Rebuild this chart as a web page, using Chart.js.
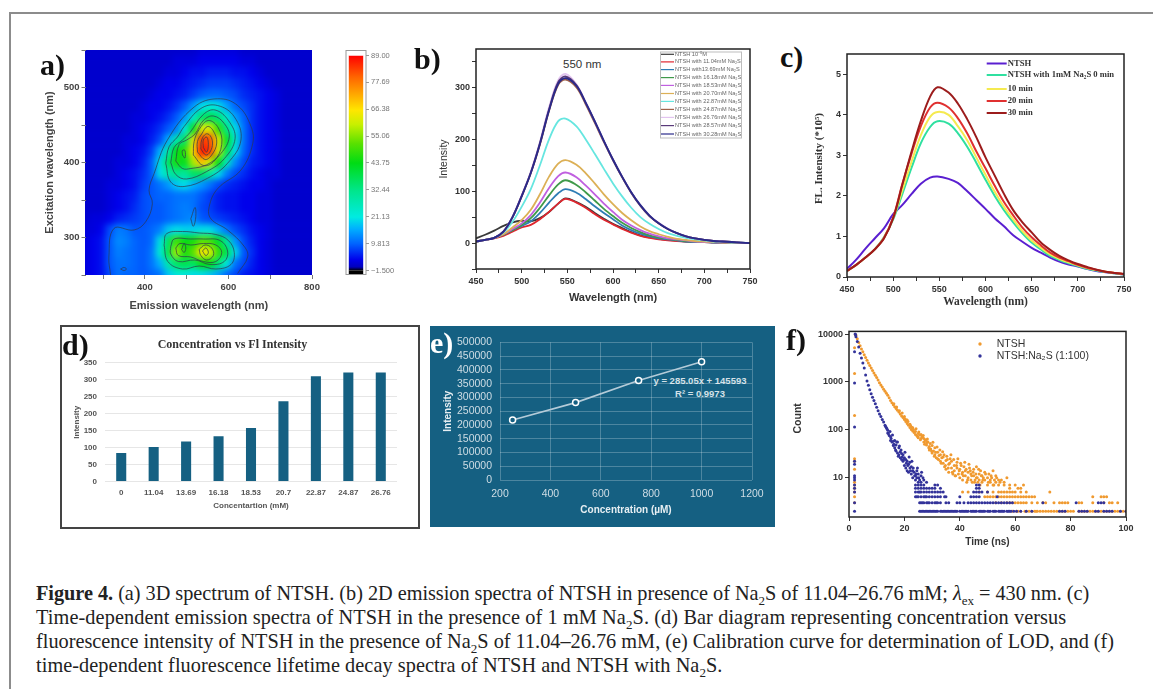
<!DOCTYPE html>
<html>
<head>
<meta charset="utf-8">
<title>Figure 4</title>
<script src="https://cdn.jsdelivr.net/npm/chart.js@4"></script>
<style>
html,body{margin:0;padding:0;background:#fff;}
body{width:1153px;height:689px;position:relative;overflow:hidden;}
canvas{position:absolute;filter:blur(.45px);}
.abs{position:absolute;white-space:nowrap;}
.tag{position:absolute;font:bold 30px "Liberation Serif";color:#111;line-height:30px;z-index:5;}
.cap{position:absolute;left:36px;white-space:nowrap;font:20.3px/24px "Liberation Serif";color:#222;}
.cap sub{font-size:13px;line-height:0;}
</style>
</head>
<body>
<div class="abs" style="left:9px;top:12px;width:1144px;height:2px;background:#8c8c8c"></div>
<div class="abs" style="left:9px;top:12px;width:2px;height:677px;background:#8c8c8c"></div>
<div class="abs" style="left:60px;top:325px;width:356px;height:200px;border:2px solid #444"></div>
<div class="abs" style="left:430px;top:326px;width:345px;height:201px;background:#156082"></div>
<div class="abs" id="heatClip" style="left:85px;top:50px;width:227px;height:225px;overflow:hidden;background:rgb(0,0,222)"></div>

<div class="tag" style="left:40px;top:50px">a)</div>
<div class="tag" style="left:414px;top:44px">b)</div>
<div class="tag" style="left:780px;top:42px">c)</div>
<div class="tag" style="left:62px;top:330px">d)</div>
<div class="tag" style="left:430px;top:328px;color:#fff">e)</div>
<div class="tag" style="left:786px;top:325px">f)</div>

<div class="abs" style="left:563px;top:58px;font:11.5px 'Liberation Sans';color:#333">550 nm</div>
<div class="abs" style="left:651px;top:375px;width:98px;text-align:center;font:bold 9.5px 'Liberation Sans';color:#d4e1e8">y = 285.05x + 145593</div>
<div class="abs" style="left:651px;top:388px;width:98px;text-align:center;font:bold 9.5px 'Liberation Sans';color:#d4e1e8">R² = 0.9973</div>

<div class="cap" style="top:581px;letter-spacing:-.03px"><b>Figure 4.</b> (a) 3D spectrum of NTSH. (b) 2D emission spectra of NTSH in presence of Na<sub>2</sub>S of 11.04–26.76 mM; <i>λ</i><sub>ex</sub> = 430 nm. (c)</div>
<div class="cap" style="top:605px;letter-spacing:.1px">Time-dependent emission spectra of NTSH in the presence of 1 mM Na<sub>2</sub>S. (d) Bar diagram representing concentration versus</div>
<div class="cap" style="top:629px">fluorescence intensity of NTSH in the presence of Na<sub>2</sub>S of 11.04–26.76 mM, (e) Calibration curve for determination of LOD, and (f)</div>
<div class="cap" style="top:653px;letter-spacing:.06px">time-dependent fluorescence lifetime decay spectra of NTSH and NTSH with Na<sub>2</sub>S.</div>

<script>
// a) excitation-emission map
const heatEm = [260,280,300,320,340,360,380,400,420,440,460,480,500,520,540,560,580,600,620,640,660,680,700,720,740,760,780,800];
const heatEx = [550,535,520,505,490,475,460,445,430,415,400,385,370,355,340,325,310,295,280,265,250];
const heatRows = [
  [1,1,1,1,1,1,1,1,1,1,1,1,1,1,2,2,2,2,2,1,1,1,1,1,1,1,1,1],
  [1,1,1,1,1,1,1,1,1,1,1,2,2,2,3,3,3,3,3,2,2,1,1,1,1,1,1,1],
  [1,1,1,1,1,1,1,1,1,1,2,2,3,4,4,5,5,5,4,4,3,2,1,1,1,1,1,1],
  [1,1,1,1,1,1,1,1,1,2,3,3,4,5,6,7,7,7,6,5,4,3,2,1,1,1,1,1],
  [1,1,1,1,1,1,1,1,2,3,3,4,5,7,9,10,10,9,8,6,5,4,3,2,1,1,1,1],
  [1,1,1,1,1,1,1,2,3,3,4,6,9,14,20,22,20,15,10,8,6,4,3,2,1,1,1,1],
  [1,1,1,1,1,1,2,2,3,4,6,9,14,24,35,38,34,24,15,10,6,4,3,2,1,1,1,1],
  [1,1,1,1,1,1,2,3,4,6,9,12,22,42,62,62,48,33,20,11,6,4,3,2,1,1,1,1],
  [1,1,1,1,1,2,2,3,5,8,16,28,36,62,84,82,62,42,24,11,6,4,3,2,1,1,1,1],
  [1,1,1,1,1,2,3,4,7,16,28,44,48,66,88,84,62,38,20,10,6,4,3,2,1,1,1,1],
  [1,1,1,1,2,2,3,5,9,20,36,46,42,58,70,60,44,26,13,8,5,4,3,2,1,1,1,1],
  [1,1,1,1,2,3,4,6,9,20,28,32,30,36,36,30,20,12,8,6,4,3,2,2,1,1,1,1],
  [1,1,1,2,2,3,4,7,9,11,14,18,20,16,14,11,8,6,5,4,3,3,2,1,1,1,1,1],
  [1,1,1,2,3,4,5,8,9,10,10,11,11,11,9,7,5,4,4,3,3,2,2,1,1,1,1,1],
  [1,1,1,2,3,4,6,8,9,9,10,11,12,11,8,7,5,4,4,3,3,2,2,1,1,1,1,1],
  [1,2,2,3,5,6,7,8,9,9,10,11,12,13,9,8,7,6,5,4,3,2,2,1,1,1,1,1],
  [2,2,3,8,12,11,9,9,10,12,18,20,19,19,20,20,16,11,8,6,4,3,2,1,1,1,1,1],
  [2,3,4,9,13,12,10,9,10,20,36,50,44,46,52,50,42,30,14,8,5,3,2,1,1,1,1,1],
  [2,3,4,9,12,11,10,9,11,22,38,58,46,52,66,62,48,38,20,9,6,3,2,1,1,1,1,1],
  [2,3,4,9,11,11,10,9,11,16,28,36,38,36,44,44,34,22,11,8,5,3,2,1,1,1,1,1],
  [2,3,4,8,11,10,10,9,10,11,18,22,22,20,20,18,15,10,8,5,4,3,2,1,1,1,1,1]
];
// contour lines as [emission, excitation] pairs
const contourOuter = [[318,250],[314,274],[326,312],[374,310],[402,321],[418,345],[410,363],[422,385],[454,430],[518,474],[574,485],[622,476],[654,448],[658,425],[630,390],[574,365],[554,341],[558,325],[598,310],[638,288],[646,274],[622,252]];
const contourUpper = [
  [[450,399],[462,374],[494,368],[550,379],[598,399],[630,430],[614,461],[574,476],[534,472],[494,448],[478,434],[458,421],[450,399]],
  [[462,400],[474,384],[500,378],[548,388],[590,405],[616,432],[600,456],[568,470],[540,464],[508,440],[490,430],[470,420],[462,400]],
  [[474,402],[490,392],[510,392],[548,397],[582,412],[602,434],[590,452],[564,462],[540,456],[520,438],[500,430],[482,424],[474,402]],
  [[516,410],[540,396],[566,402],[584,424],[576,446],[552,456],[530,444],[518,428],[516,410]],
  [[526,414],[544,404],[560,410],[572,426],[564,442],[550,448],[536,438],[526,428],[526,414]],
  [[534,418],[546,410],[556,414],[562,426],[556,436],[546,438],[536,430],[534,418]],
  [[540,420],[548,414],[552,424],[548,434],[540,430],[540,420]],
  [[490,410],[496,406],[496,416],[490,416],[490,410]]
];
const contourLower = [
  [[446,290],[452,305],[490,308],[530,306],[570,304],[600,296],[614,280],[606,264],[570,258],[530,262],[490,258],[455,268],[446,290]],
  [[462,288],[470,298],[510,298],[540,298],[580,296],[598,282],[590,268],[556,264],[520,270],[480,268],[462,278],[462,288]],
  [[474,286],[484,292],[510,290],[540,292],[570,290],[584,280],[570,268],[540,268],[510,274],[480,276],[474,286]],
  [[488,284],[494,292],[498,286],[494,280],[488,284]],
  [[530,284],[544,290],[560,286],[564,276],[548,270],[534,276],[530,284]],
  [[538,282],[546,286],[552,280],[546,276],[538,282]],
  [[510,325],[520,340],[522,328],[516,315],[510,325]],
  [[342,258],[350,260],[356,258],[350,256],[342,258]]
];
const cbarTicks = [89,77.69,66.38,55.06,43.75,32.44,21.13,9.813,-1.5];
const cbarLabels = ["89.00","77.69","66.38","55.06","43.75","32.44","21.13","9.813","−1.500"];

// b) and c) spectra share the wavelength list
const wave = [450,460,470,480,490,500,510,520,530,540,548,560,570,580,590,600,610,620,630,640,650,660,670,680,690,700,710,720,730,740,750];
const bLabels = ["NTSH 10⁻⁵M","NTSH with 11.04mM Na₂S","NTSH with13.69mM Na₂S","NTSH with 16.18mM Na₂S","NTSH with 18.53mM Na₂S","NTSH with 20.70mM Na₂S","NTSH with 22.87mM Na₂S","NTSH with 24.87mM Na₂S","NTSH with 26.76mM Na₂S","NTSH with 28.57mM Na₂S","NTSH with 30.28mM Na₂S"];
const bNtsh = [9,16,24,33,40,43,42,48,60,76,86,79,70,58,47,37,29,21,15,11,8,6,4.5,3,2,2,1.5,1,1,0.5,0];
const b1104 = [3,6,9,14,22,30,35,46,60,76,85,78,68,56,45,36,27,20,14,10,7,5,4,3,2,2,1,1,1,0,0];
const b1369 = [3,6,10,16,25,33,42,58,78,96,104,97,85,71,58,46,34,25,18,13,9,7,5,3,2,2,1,1,1,0,0];
const b1618 = [3,6,10,16,25,35,48,68,92,113,121,112,98,82,66,52,39,29,21,15,11,8,6,4,3,2,2,1,1,0,0];
const b1853 = [3,6,10,17,27,38,54,78,106,129,136,127,111,94,76,60,45,34,25,18,13,9,7,5,3,2,2,1,1,0,0];
const b2070 = [3,6,10,17,30,44,64,94,128,153,160,151,135,115,94,75,58,44,32,23,17,12,8,6,4,3,2,1,1,0,0];
const b2287 = [3,6,10,20,41,70,104,150,200,235,240,225,200,172,143,115,90,68,50,37,27,19,14,10,7,5,3,2,1,1,0];
const b2487 = [3,6,10,22,50,90,135,190,255,305,315,300,268,232,195,160,127,97,72,52,38,27,19,13,9,6,4,3,2,1,0];
const b2676 = [3,6,10,22,51,92,138,195,262,314,326,306,272,235,197,161,128,98,73,53,39,28,19,13,9,6,4,3,2,1,0];
const b2857 = [3,6,10,22,50,91,136,193,258,310,321,304,270,234,196,160,127,97,72,52,38,27,19,13,9,6,4,3,2,1,0];
const b3028 = [3,6,10,22,50,90,135,191,256,307,318,303,271,235,197,161,128,98,73,53,38,27,19,13,9,6,4,3,2,1,0];

const cLabels = ["NTSH","NTSH with 1mM Na₂S 0 min","10 min","20 min","30 min"];
const cNtsh = [.2,.43,.7,.95,1.2,1.55,1.78,2.05,2.3,2.45,2.48,2.42,2.32,2.12,1.9,1.68,1.45,1.25,1.03,.87,.72,.6,.48,.38,.31,.26,.2,.15,.12,.09,.06];
const c0 = [.15,.3,.48,.68,.98,1.42,2.05,2.7,3.3,3.7,3.84,3.78,3.55,3.22,2.82,2.4,2,1.65,1.35,1.08,.85,.68,.52,.42,.34,.27,.2,.16,.12,.09,.06];
const c10 = [.15,.3,.48,.68,.97,1.45,2.15,2.85,3.5,3.95,4.07,4,3.72,3.38,2.95,2.52,2.1,1.73,1.42,1.13,.9,.72,.56,.45,.36,.29,.22,.17,.13,.1,.07];
const c20 = [.15,.3,.48,.68,.96,1.47,2.3,3.05,3.72,4.18,4.3,4.18,3.92,3.55,3.1,2.68,2.25,1.85,1.52,1.22,.98,.78,.6,.48,.39,.3,.23,.18,.13,.1,.07];
const c30 = [.15,.3,.48,.68,.95,1.45,2.28,3.1,3.85,4.45,4.68,4.55,4.28,3.9,3.45,2.95,2.5,2.05,1.65,1.35,1.1,.85,.67,.52,.41,.32,.25,.18,.13,.1,.08];

// d) bars
const dCats = ["0","11.04","13.69","16.18","18.53","20.7","22.87","24.87","26.76"];
const dVals = [84,102,118,134,158,237,311,322,322];

// e) calibration
const eConc = [250,500,750,1000];
const eInt = [218000,281000,361000,429000];

// f) decay, time and count pairs
const ntshT = [2,2,2,2,2,2,2,2,2,2,2,2,2.3,2.5,3,3.5,4,4.5,5,5.5,6,6.5,7,7.5,8,8.5,9,9.5,10,10.5,11,11.5,12,12.5,13,13.5,14,14.5,15,15.5,16,16.5,17,17.5,18,18.5,19,19.5,20,20.5,21,21.5,22,22.5,23,23.5,24,24.5,25,20,21,22,23,24,25,25.5,26,26,26.5,27,27,27.5,28,28,28.5,29,29,29.5,30,30,30.5,31,31,31.5,32,32,32.5,33,33,33.5,34,34,34.5,35,35,35.5,36,36,36.5,37,37,37.5,38,38,38.5,39,39,39.5,40,40,40.5,41,41,41.5,42,42,42.5,43,43,43.5,44,44,44.5,45,45,45.5,46,46,46.5,47,47,47.5,48,48,48.5,49,49,50,50,50.5,51,51,51.5,52,52,52.5,53,53,54,54,54.5,55,56,56,57,58,58,60,61,62,63];
const ntshC = [5200,1500,200,25,22,15,8,7,6,5,4,3,9800,9500,8000,6700,5700,4900,4300,3700,3250,2850,2500,2200,1950,1730,1540,1380,1240,1100,960,860,780,700,640,580,530,470,410,370,335,305,280,255,235,215,195,180,165,150,135,125,112,102,95,88,80,75,68,190,160,130,110,92,84,78,80,66,70,66,56,62,54,48,56,45,38,40,47,33,36,30,42,26,34,25,29,22,30,26,20,27,17,23,15,24,19,13,25,16,22,12,18,14,11,21,16,12,15,10,18,13,9,17,11,14,8,13,10,16,9,12,8,11,15,9,17,10,8,12,9,14,8,11,10,9,13,10,7,12,9,8,10,7,14,9,8,11,7,9,8,9,7,8,10,7,6,7,6,6,7];
const ntshCloudT = [16.2,17.2,18.2,19.2,20.2,20.8,21.3,22.3,22.8,23.3,24.2,24.8,25.2,25.8,26.3,26.8,27.3,27.8,28.3,28.8,29.3,29.8,30.3,30.8,31.3,31.8,32.3,32.8,33.3,33.8,34.3,34.8,35.3,35.8,36.3,36.8,37.3,37.8,38.3,38.8,39.3,39.8,40.3,40.8,41.3,41.8,42.3,42.8,43.3,43.8,44.3,44.8,45.3,45.8,46.3,46.8,47.3,47.8,48.3,49.3,50.3,51.3,52.3,53.3];
const ntshCloudC = [350,300,250,225,170,160,150,120,112,100,105,72,90,62,74,76,50,60,64,42,52,36,55,28,34,44,24,38,20,35,30,18,28,16,20,30,13,24,11,18,25,14,20,12,11,21,15,9,19,14,11,13,8,12,10,15,7,11,9,12,8,11,7,10];
const ntshBand2 = [59,60.5,61,62,63.5,64,65,66,67,67.5,68,69,70,71,72,73,74,75,76,77,78,79,80,81,83,84,85,86,87,88,89,90,91,92,93,94,95,96,97,98,99,100];
const ntshBand3 = [53,55,57,58,59,60,61,62,63,64,66,68,70,71,74,76,77,78,79,83,84,88,92,94,95,97];
const ntshBand4 = [49,50,51,52,53,54,55,56,57,58,59,60,61,62,63,64,65,66,67,88,91,92,93];
const ntshBand5 = [41,43,47,50,52,54,55,56,57,58,59,60,62,64,72.5];

const navyT = [2,2,2,2,2,2,2,2,2,2,2,2,2,2.2,2.4,2.5,3,3.5,4,4.5,5,5.5,6,6.5,7,7.5,8,8.5,9,9.5,10,10.5,11,11.5,12,12.5,13,13.5,14,14,14.5,15,15,15.5,16,16,16.5,16.5,17,17,17.5,17.5,18,18,18.5,18.5,19,19,19.5,19.5,20,20,20.5,20.5,21,21,21.5,21.5,22,22,22.5,22.5,23,23,23.5,24,24,24.5,24.5,25,25,25.5,26,26,27,28];
const navyC = [4300,950,115,22,19,11,10,9,7,6,5,3,2,10000,9700,8800,7000,5400,4000,3150,2500,1950,1400,1050,850,690,570,480,410,350,295,250,215,190,165,145,125,110,98,86,76,72,60,56,58,47,42,60,36,48,33,56,30,42,26,35,24,32,22,30,18,26,16,24,22,14,19,13,16,21,12,17,14,10,13,11,9,10,14,8,12,9,11,8,9,8];
const navyCloudT = [13.2,13.7,14.2,14.8,15.2,15.7,16.2,16.8,17.2,17.8,18.2,18.8,19.2,19.8,20.2,20.7,21.2,21.7,22.2,22.7,23.2,23.7,24.2,24.7,25.2,26.2,26.7];
const navyCloudC = [118,105,84,92,66,78,50,38,56,28,46,38,27,24,34,20,18,27,14,22,16,11,12,16,10,13,10];
const navyBand2 = [25.5,26,26.5,27,27.5,28,28.5,29,29.5,30,30.5,31,31.5,32,33,33.5,34,34.5,35,35.5,36,36.5,37,37.5,38,38.5,39,40,40.5,41,41.5,42,42.5,43,44,44.5,45,45.5,46,47,47.5,48,48.5,49,50,50.5,51,52,52.5,53,54,54.5,55,55.5,56,57,57.5,58,58.5,59.5,60.5,62,64,66,76,77,78,83,84,85,86,89,90,92,93,94,95,98,100];
const navyBand3 = [25.5,26,26.5,27,28,28.5,29,30,31,31.5,32,33,35,36,39,40,41.5,43,44,45,46,47,48,49,50,51,52,53,54,55,56,57,58,59,70,82,90,91,92];
const navyBand4 = [24,24.5,25,26,27,27.5,28,29,30,31,32,33,34.5,35,40,44,45,46,47,53.5];
const navyBand5 = [24,25,25.5,26,27,28,29,30,31,32,33,34,45,46,47,48,50];
const navyBand6 = [24,25,26,27,28,29,30,31,33,46,47];
const navyBand7 = [24,25,26,27,31,32,46,47];

// colour map of panel a
const mapStops = [[-1.5,0,0,0],[0,0,0,190],[3,0,0,235],[9.8,0,100,255],[16,0,175,255],[21,0,235,225],[32,0,230,140],[43.75,0,220,20],[52,90,225,0],[60,200,240,0],[66,255,230,0],[73,255,165,0],[80,255,100,0],[89,255,0,0]];
function mapColor(v) {
    for (let i = 1; i < mapStops.length; i++) {
        const a = mapStops[i-1], b = mapStops[i];
        if (v <= b[0]) {
            const t = (v-a[0])/(b[0]-a[0]);
            return `rgb(${Math.round(a[1]+t*(b[1]-a[1]))},${Math.round(a[2]+t*(b[2]-a[2]))},${Math.round(a[3]+t*(b[3]-a[3]))})`;
        }
    }
    return "rgb(255,0,0)";
}

const pairs = (xs, ys) => xs.map((x, i) => ({x: x, y: ys[i]}));
const band = (xs, c) => xs.map(x => ({x: x, y: c}));
const sans = "'Liberation Sans'", serif = "'Liberation Serif'";

// canvas placed so that the plot area lands at [l,t,r,b], with margins L,T,R,B round it
function place(plot, m) {
    const c = document.createElement("canvas");
    c.width = plot[2]-plot[0]+m[0]+m[2];
    c.height = plot[3]-plot[1]+m[1]+m[3];
    c.style.left = (plot[0]-m[0])+"px";
    c.style.top = (plot[1]-m[1])+"px";
    document.body.appendChild(c);
    return c;
}

function scale(o) {
    const s = {
        type: o.type || "linear", min: o.min, max: o.max, position: o.pos,
        grid: {drawOnChartArea: !!o.grid, color: o.grid, tickLength: o.tickLen === undefined ? 4 : o.tickLen, tickColor: o.tickColor || "#333", tickWidth: 1, drawTicks: o.tickLen !== 0},
        border: {display: !!o.axisLine, color: o.axisLine, width: 1.5},
        ticks: {autoSkip: false, maxRotation: 0, padding: o.tickPad === undefined ? 2 : o.tickPad, color: o.color || "#333", font: o.font,
            callback: v => (o.labels ? (o.labels.includes(v) ? (o.text ? o.text[o.labels.indexOf(v)] : String(v)) : "") : String(v))},
        title: {display: !!o.title, text: o.title, color: o.titleColor || "#333", font: o.titleFont, padding: {top: o.titlePad || 0, bottom: 0}},
        afterFit: a => { if (o.pos === "bottom") a.height = o.size; else a.width = o.size; }
    };
    if (o.vals) s.afterBuildTicks = a => { a.ticks = o.vals.map(v => ({value: v})); };
    return s;
}

const framePlugin = {
    id: "frame",
    afterDatasetsDraw(chart, args, opts) {
        const a = chart.chartArea, ctx = chart.ctx;
        ctx.save();
        ctx.strokeStyle = opts.color;
        ctx.lineWidth = opts.width;
        ctx.strokeRect(a.left, a.top, a.right-a.left, a.bottom-a.top);
        ctx.restore();
    }
};

// key drawn from the dataset labels and colours, page coordinates
const keyPlugin = {
    id: "key",
    afterDraw(chart, args, o) {
        const ctx = chart.ctx, ox = parseFloat(chart.canvas.style.left), oy = parseFloat(chart.canvas.style.top);
        ctx.save();
        if (o.box) {
            ctx.fillStyle = "rgba(255,255,255,.9)";
            ctx.strokeStyle = "#bdbdbd";
            ctx.fillRect(o.box[0]-ox, o.box[1]-oy, o.box[2], o.box[3]);
            ctx.strokeRect(o.box[0]-ox, o.box[1]-oy, o.box[2], o.box[3]);
        }
        ctx.textBaseline = "middle";
        ctx.textAlign = "left";
        ctx.font = o.font;
        o.rows.forEach((y, i) => {
            ctx.strokeStyle = ctx.fillStyle = o.colors[i];
            if (o.dots) {
                ctx.beginPath();
                ctx.arc(o.x0-ox, y-oy, 1.7, 0, Math.PI*2);
                ctx.fill();
            } else {
                ctx.lineWidth = o.lw;
                ctx.beginPath();
                ctx.moveTo(o.x0-ox, y-oy);
                ctx.lineTo(o.x1-ox, y-oy);
                ctx.stroke();
            }
            ctx.fillStyle = o.textColor;
            ctx.fillText(o.labels[i], o.tx-ox, y-oy);
        });
        ctx.restore();
    }
};

const base = (extra) => Object.assign({responsive: false, animation: false, events: []}, extra);

// a) map cells, own canvas so that only they get blurred, clipped by #heatClip
const heatCells = [];
heatRows.forEach((row, r) => row.forEach((v, c) => heatCells.push({x: heatEm[c], y: heatEx[r], v: v})));
const heatCanvas = document.createElement("canvas");
heatCanvas.width = 227+40;
heatCanvas.height = 225+40;
heatCanvas.style.left = "-20px";
heatCanvas.style.top = "-20px";
heatCanvas.style.filter = "blur(3px)";
document.getElementById("heatClip").appendChild(heatCanvas);
new Chart(heatCanvas, {
    type: "scatter",
    data: {datasets: [{data: heatCells, clip: false, pointStyle: "rect", pointRadius: 8.2, borderWidth: 0,
        backgroundColor: c => mapColor(c.raw ? c.raw.v : 1)}]},
    options: base({
        layout: {padding: 20},
        plugins: {legend: {display: false}, tooltip: {enabled: false}},
        scales: {x: {display: false, min: 258, max: 800}, y: {display: false, min: 250, max: 550}}
    })
});

const contours = [contourOuter].concat(contourUpper, contourLower);
new Chart(place([85,50,312,275], [42.5,8,12,38]), {
    type: "scatter",
    data: {datasets: contours.map(line => ({
        data: line.map(p => ({x: p[0], y: p[1]})), showLine: true, tension: .4, pointRadius: 0,
        borderColor: "rgba(45,55,75,.7)", borderWidth: 1
    }))},
    options: base({
        layout: {padding: {top: 8, right: 12}},
        plugins: {legend: {display: false}, tooltip: {enabled: false}},
        scales: {
            x: scale({min: 258, max: 800, pos: "bottom", size: 38, vals: [300,400,500,600,700,800], labels: [400,600,800],
                font: {family: sans, weight: "bold", size: 9.5}, color: "#444", tickColor: "#777", tickPad: 3, title: "Emission wavelength (nm)",
                titleFont: {family: sans, weight: "bold", size: 11}, titleColor: "#444"}),
            y: scale({min: 250, max: 550, pos: "left", size: 42.5, vals: [250,300,350,400,450,500,550], labels: [300,400,500],
                font: {family: sans, weight: "bold", size: 9.5}, color: "#444", tickColor: "#777", title: "Excitation wavelength (nm)",
                titleFont: {family: sans, weight: "bold", size: 11}, titleColor: "#444"})
        }
    })
});

// a) colour bar
new Chart(place([346,50,366,275], [2,6,36,6]), {
    type: "bar",
    data: {labels: [""], datasets: [
        {data: [[89,91.1]], backgroundColor: "#fff", grouped: false},
        {data: [[-1.5,89]], grouped: false, backgroundColor(ctx) {
            const ch = ctx.chart;
            if (!ch.chartArea) return "#00f";
            const y = ch.scales.y, g = ch.ctx.createLinearGradient(0, y.getPixelForValue(-1.5), 0, y.getPixelForValue(89));
            mapStops.forEach(s => g.addColorStop((s[0]+1.5)/90.5, `rgb(${s[1]},${s[2]},${s[3]})`));
            return g;
        }},
        {data: [[-3.18,-1.5]], backgroundColor: "#000", grouped: false}
    ]},
    options: base({
        layout: {padding: {top: 6, bottom: 6, left: 2, right: 0}},
        plugins: {legend: {display: false}, tooltip: {enabled: false}, frame: {color: "#999", width: 1}},
        scales: {
            x: {display: false},
            y: scale({min: -3.18, max: 91.1, pos: "right", size: 36, vals: cbarTicks, labels: cbarTicks, text: cbarLabels,
                font: {family: sans, size: 7.5}, color: "#777", tickColor: "#999", tickLen: 3})
        }
    }),
    plugins: [framePlugin]
});

// b) emission spectra
const bSeries = [bNtsh,b1104,b1369,b1618,b1853,b2070,b2287,b2487,b2676,b2857,b3028];
const bColors = ["#3a3a3a","#e0262e","#2e7db5","#3f9a4a","#c060e0","#dcb056","#66e6e0","#a0624a","#e2c4f0","#5a3a7a","#2a2a8a"];
new Chart(place([476,49,750,269.3], [38,8,12,36]), {
    type: "scatter",
    data: {datasets: bSeries.map((s, i) => ({
        label: bLabels[i], data: pairs(wave, s), showLine: true, tension: .35, pointRadius: 0,
        borderColor: bColors[i], borderWidth: 1.8, order: 20-i
    }))},
    options: base({
        layout: {padding: {top: 8, right: 12}},
        plugins: {legend: {display: false}, tooltip: {enabled: false}, frame: {color: "#222", width: 1.5},
            key: {box: [660.5,52,81,86], rows: [54.3,61.9,69.6,77.6,85.4,93.5,101.4,109.4,117.4,125.6,134], x0: 661, x1: 674, tx: 675,
                lw: 1.2, font: "5.6px 'Liberation Sans'", textColor: "#666", colors: bColors, labels: bLabels}},
        scales: {
            x: scale({min: 450, max: 750, pos: "bottom", size: 36, vals: [450,475,500,525,550,575,600,625,650,675,700,725,750], labels: [450,500,550,600,650,700,750],
                font: {family: sans, weight: "bold", size: 9}, tickPad: 3, title: "Wavelength (nm)", titleFont: {family: sans, weight: "bold", size: 11}}),
            y: scale({min: -50, max: 374, pos: "left", size: 38, vals: [-50,0,50,100,150,200,250,300,350], labels: [0,100,200,300],
                font: {family: sans, weight: "bold", size: 9}, title: "Intensity", titleFont: {family: sans, size: 10.5}})
        }
    }),
    plugins: [framePlugin, keyPlugin]
});

// c) time dependence
const cSeries = [cNtsh,c0,c10,c20,c30];
const cColors = ["#5a1fd0","#2fe0a0","#f5ea50","#e03030","#9c1c1c"];
new Chart(place([847.3,54,1125,277], [34,8,16,32]), {
    type: "scatter",
    data: {datasets: cSeries.map((s, i) => ({
        label: cLabels[i], data: pairs(wave, s), showLine: true, tension: .35, pointRadius: 0,
        borderColor: cColors[i], borderWidth: 2, order: 20-i
    }))},
    options: base({
        layout: {padding: {top: 8, right: 16}},
        plugins: {legend: {display: false}, tooltip: {enabled: false}, frame: {color: "#222", width: 1.5},
            key: {rows: [63.5,75,89,101,113], x0: 987, x1: 1007, tx: 1008, lw: 2, font: "bold 8.6px 'Liberation Serif'", textColor: "#333", colors: cColors, labels: cLabels}},
        scales: {
            x: scale({min: 450, max: 750, pos: "bottom", size: 32, vals: [450,475,500,525,550,575,600,625,650,675,700,725,750], labels: [450,500,550,600,650,700,750],
                font: {family: sans, weight: "bold", size: 9}, tickPad: 3, title: "Wavelength (nm)", titleFont: {family: serif, weight: "bold", size: 11.5}}),
            y: scale({min: 0, max: 5.5, pos: "left", size: 34, vals: [0,1,2,3,4,5], labels: [0,1,2,3,4,5],
                font: {family: sans, weight: "bold", size: 9}, title: "\u00a0\u00a0\u00a0\u00a0\u00a0FL. Intensity (*10⁵)", titleFont: {family: serif, weight: "bold", size: 11}})
        }
    }),
    plugins: [framePlugin, keyPlugin]
});

// d) bar diagram
new Chart(place([105,362.7,397,481.7], [37,33.7,3,29.4]), {
    type: "bar",
    data: {labels: dCats, datasets: [{data: dVals, backgroundColor: "#156082", barPercentage: .31, categoryPercentage: 1}]},
    options: base({
        layout: {padding: {right: 3}},
        plugins: {legend: {display: false}, tooltip: {enabled: false},
            title: {display: true, text: "Concentration vs Fl Intensity", color: "#333", font: {family: serif, weight: "bold", size: 12}, padding: {top: 9, bottom: 10.5}}},
        scales: {
            x: {
                grid: {display: false, drawTicks: false}, border: {display: false},
                ticks: {color: "#555", font: {family: sans, weight: "bold", size: 8}, padding: 6, maxRotation: 0, autoSkip: false},
                title: {display: true, text: "Concentartion (mM)", color: "#555", font: {family: sans, weight: "bold", size: 8}, padding: 0},
                afterFit: a => { a.height = 29.4; }
            },
            y: scale({min: 0, max: 350, pos: "left", size: 37, vals: [0,50,100,150,200,250,300,350], grid: "#e6e6e6", tickLen: 0, tickPad: 8,
                font: {family: sans, weight: "bold", size: 8}, color: "#555", title: "Intensity", titleColor: "#555", titlePad: 4, titleFont: {family: sans, weight: "bold", size: 8}})
        }
    })
});

// e) calibration curve
new Chart(place([500.3,336.7,753.3,480], [60,9,20,36]), {
    type: "scatter",
    data: {datasets: [{data: pairs(eConc, eInt), showLine: true, borderColor: "#b4cbd8", borderWidth: 1.6, pointRadius: 3,
        pointBackgroundColor: "#156082", pointBorderColor: "#fff", pointBorderWidth: 1.5}]},
    options: base({
        layout: {padding: {top: 9, right: 20}},
        plugins: {legend: {display: false}, tooltip: {enabled: false}},
        scales: {
            x: scale({min: 200, max: 1200, pos: "bottom", size: 36, vals: [200,400,600,800,1000,1200], grid: "rgba(255,255,255,.24)", tickLen: 0, tickPad: 8,
                font: {family: sans, size: 10.5}, color: "#cfdde5", title: "Concentration (µM)", titleColor: "#e6eef2", titleFont: {family: sans, weight: "bold", size: 10}}),
            y: scale({min: 0, max: 500000, pos: "left", size: 60, vals: [0,50000,100000,150000,200000,250000,300000,350000,400000,450000,500000], grid: "rgba(255,255,255,.24)", tickLen: 0, tickPad: 8,
                font: {family: sans, size: 10.5}, color: "#cfdde5", title: "Intensity", titleColor: "#e6eef2", titlePad: 2, titleFont: {family: sans, weight: "bold", size: 10}})
        }
    })
});

// f) lifetime decay
const fColors = ["#f09a30","#33339a"];
const fLabels = ["NTSH","NTSH:Na₂S (1:100)"];
new Chart(place([849,330,1126,517.3], [57,6,16,31]), {
    type: "scatter",
    data: {datasets: [
        {label: fLabels[1], order: 1, pointRadius: 1.5, borderWidth: 0, pointBackgroundColor: fColors[1],
         data: [].concat(pairs(navyT, navyC), pairs(navyCloudT, navyCloudC), band(navyBand2,2), band(navyBand3,3), band(navyBand4,4), band(navyBand5,5), band(navyBand6,6), band(navyBand7,7))},
        {label: fLabels[0], order: 2, pointRadius: 1.5, borderWidth: 0, pointBackgroundColor: fColors[0],
         data: [].concat(pairs(ntshT, ntshC), pairs(ntshCloudT, ntshCloudC), band(ntshBand2,2), band(ntshBand3,3), band(ntshBand4,4), band(ntshBand5,5))}
    ]},
    options: base({
        layout: {padding: {top: 6, right: 16}},
        plugins: {legend: {display: false}, tooltip: {enabled: false}, frame: {color: "#222", width: 1.5},
            key: {dots: true, rows: [344,356], x0: 980, tx: 996.7, font: "10.5px 'Liberation Sans'", textColor: "#333", colors: fColors, labels: fLabels}},
        scales: {
            x: scale({min: 0, max: 100, pos: "bottom", size: 31, vals: [0,20,40,60,80,100],
                font: {family: sans, weight: "bold", size: 9}, tickPad: 2, title: "Time (ns)", titleFont: {family: sans, weight: "bold", size: 10}}),
            y: scale({type: "logarithmic", min: 1.51, max: 11380, pos: "left", size: 57, vals: [10,100,1000,10000], labels: [10,100,1000,10000],
                font: {family: sans, weight: "bold", size: 9}, title: "\u00a0\u00a0\u00a0\u00a0Count", titleFont: {family: sans, weight: "bold", size: 10.5}})
        }
    }),
    plugins: [framePlugin, keyPlugin]
});
</script>
</body>
</html>
